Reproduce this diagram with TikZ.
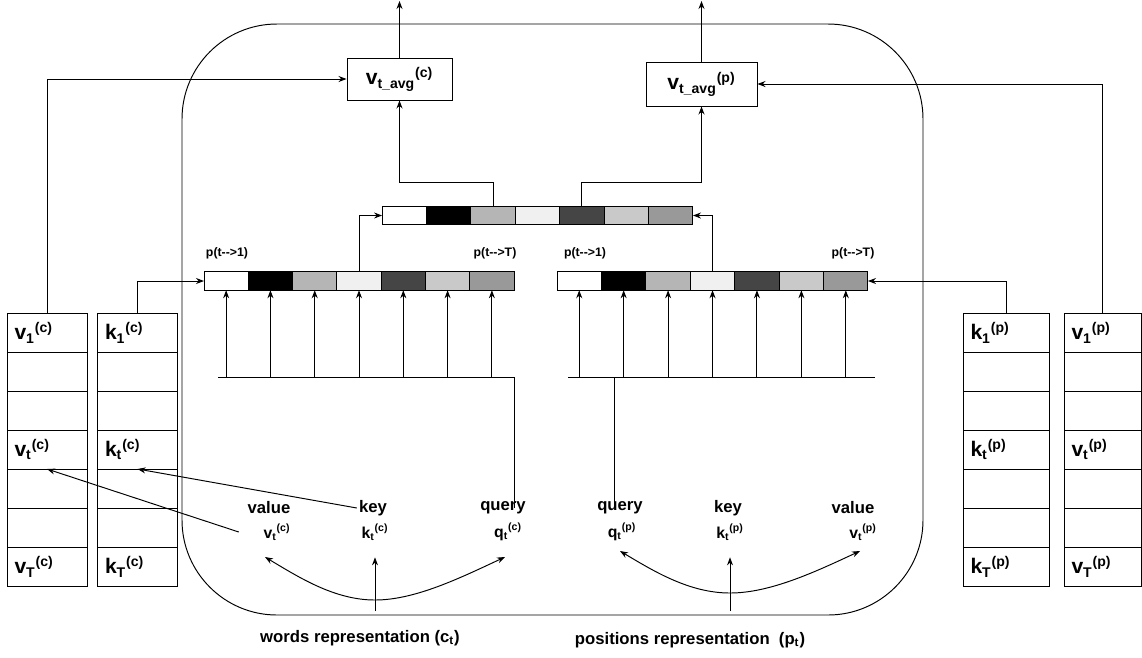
\documentclass[tikz,border=0pt]{standalone}
\usepackage{fontspec}
\setmainfont{Liberation Sans}
\usetikzlibrary{positioning,arrows.meta}

\definecolor{shadeA}{gray}{1}
\definecolor{shadeB}{gray}{0}
\definecolor{shadeC}{gray}{0.71}
\definecolor{shadeD}{gray}{0.94}
\definecolor{shadeE}{gray}{0.27}
\definecolor{shadeF}{gray}{0.79}
\definecolor{shadeG}{gray}{0.6}

\newcommand{\emb}[3]{#1\textsubscript{#2}\textsuperscript{(#3)}}

\begin{document}
\begin{tikzpicture}[
        x=0.02cm, y=-0.02cm,
        line width=0.55pt,
        >={Stealth[length=1.6mm,width=1.2mm]},
        arrow/.style={->},
        cell/.style={draw, minimum width=0.886cm, minimum height=0.37cm, inner sep=0pt, outer sep=0pt},
        slot/.style={draw, text width=#1, minimum height=0.78cm, inner xsep=0.15cm, inner ysep=0pt, outer sep=0pt, align=left, font=\bfseries\fontsize{12}{14}\selectfont},
        slot/.default=1.3cm,
        avg/.style={draw, inner sep=0pt, font=\bfseries\fontsize{12}{14}\selectfont},
        tag/.style={font=\bfseries\fontsize{9.5}{11}\selectfont, inner sep=1pt},
        small/.style={font=\bfseries\fontsize{9}{10}\selectfont, inner sep=1pt},
        prob/.style={font=\bfseries\fontsize{7}{8}\selectfont, inner sep=1pt}
    ]
    \useasboundingbox (0,0) rectangle (1142,657);

    % outer frame
    \draw[rounded corners=1.9cm] (182,24) rectangle (923,615);

    % key / value memories
    \foreach \col/\cx/\w/\lt/\sc in {vc/47/1.3cm/v/c, kc/137.5/1.3cm/k/c, kp/1006/1.42cm/k/p, vp/1102.5/1.24cm/v/p}
      \foreach \i/\s in {1/1,2/,3/,4/t,5/,6/,7/T}
        \node[slot=\w] (\col\i) at (\cx, 293.5+39*\i) {\ifx\s\empty\strut\else\emb{\lt}{\s}{\sc}\fi};

    % attention weights
    \foreach \i/\c in {1/shadeA,2/shadeB,3/shadeC,4/shadeD,5/shadeE,6/shadeF,7/shadeG} {
      \node[cell, fill=\c] (L\i) at (204+44.29*\i-22.15, 281) {};
      \node[cell, fill=\c] (R\i) at (557+44.43*\i-22.2, 281) {};
      \node[cell, fill=\c] (M\i) at (382+44.43*\i-22.2, 215.5) {};
    }
    \node[prob] (pl1) at (227,253) {p(t-{}->1)};
    \node[prob] (plT) at (495,253) {p(t-{}->T)};
    \node[prob] (pr1) at (585,253) {p(t-{}->1)};
    \node[prob] (prT) at (853,253) {p(t-{}->T)};

    % averaged values
    \node[avg, minimum width=2.1cm, minimum height=0.84cm] (avgc) at (399.5,79) {\emb{v}{t\_avg}{c}};
    \node[avg, minimum width=2.22cm, minimum height=0.88cm] (avgp) at (701.5,84) {\emb{v}{t\_avg}{p}};
    \coordinate (outc) at (399.5,1);
    \coordinate (outp) at (701.5,1);

    % query / key / value of the words
    \node[tag] (valc) at (269,508) {value};
    \node[tag] (keyc) at (373,508) {key};
    \node[tag] (queryc) at (503,508) {query};
    \node[small] (vtc) at (277,532) {\emb{v}{t}{c}};
    \node[small] (ktc) at (375,532) {\emb{k}{t}{c}};
    \node[small] (qtc) at (508,532) {\emb{q}{t}{c}};
    \node[tag] (wordsc) at (360,638) {words representation (c\textsubscript{t})};

    % query / key / value of the positions
    \node[tag] (queryp) at (620,508) {query};
    \node[tag] (keyp) at (728,508) {key};
    \node[tag] (valp) at (853,508) {value};
    \node[small] (qtp) at (622,532) {\emb{q}{t}{p}};
    \node[small] (ktp) at (730,532) {\emb{k}{t}{p}};
    \node[small] (vtp) at (863,532) {\emb{v}{t}{p}};
    \node[tag] (posp) at (690,640) {positions representation\ \ (p\textsubscript{t})};

    \coordinate (lbase) at (218,377);
    \coordinate (rbase) at (568,377);
    \coordinate (rbaseE) at (875,377);
    \coordinate (wc) at (375,611);
    \coordinate (wp) at (730,611);
    \coordinate (botc) at (375,600);
    \coordinate (botp) at (730,593);
    \coordinate (vtipc) at (265,557);
    \coordinate (qtipc) at (505,557);
    \coordinate (qtipp) at (620,551);
    \coordinate (vtipp) at (860,551);

    % connectors
    \draw[arrow] (vc1.north) |- (avgc.west);
    \draw[arrow] (vp1.north) |- (avgp.east);
    \draw[arrow] (kc1.north) |- (L1.west);
    \draw[arrow] (kp1.north) |- (R7.east);
    \draw[arrow] (L4.north) |- (M1.west);
    \draw[arrow] (R4.north) |- (M7.east);
    \draw[arrow] (M3.north) -- ++(0,-24) -| (avgc.south);
    \draw[arrow] (M5.north) -- ++(0,-24) -| (avgp.south);
    \draw[arrow] (avgc.north) -- (outc);
    \draw[arrow] (avgp.north) -- (outp);

    \draw (queryc -| L7.east) |- (lbase);
    \draw ([xshift=-0.12cm]queryp.center) -- ([xshift=-0.12cm]queryp.center |- rbase);
    \draw (rbase) -- (rbaseE);
    \foreach \i in {1,...,7} {
      \draw[arrow] (L\i |- lbase) -- (L\i.south);
      \draw[arrow] (R\i |- rbase) -- (R\i.south);
    }

    \draw[arrow] (keyc.west) -- (kc4.south);
    \draw[arrow] ([xshift=-0.45cm]vtc.west) -- (vc4.south);

    \draw[<->] (vtipc) .. controls (300,578) and (335,600) .. (botc) .. controls (415,600) and (460,578) .. (qtipc);
    \draw[<->] (qtipp) .. controls (655,572) and (690,593) .. (botp) .. controls (770,593) and (815,572) .. (vtipp);
    \draw[arrow] (wc) -- ([yshift=-0.3cm]ktc.south);
    \draw[arrow] (wp) -- ([yshift=-0.3cm]ktp.south);
\end{tikzpicture}
\end{document}
